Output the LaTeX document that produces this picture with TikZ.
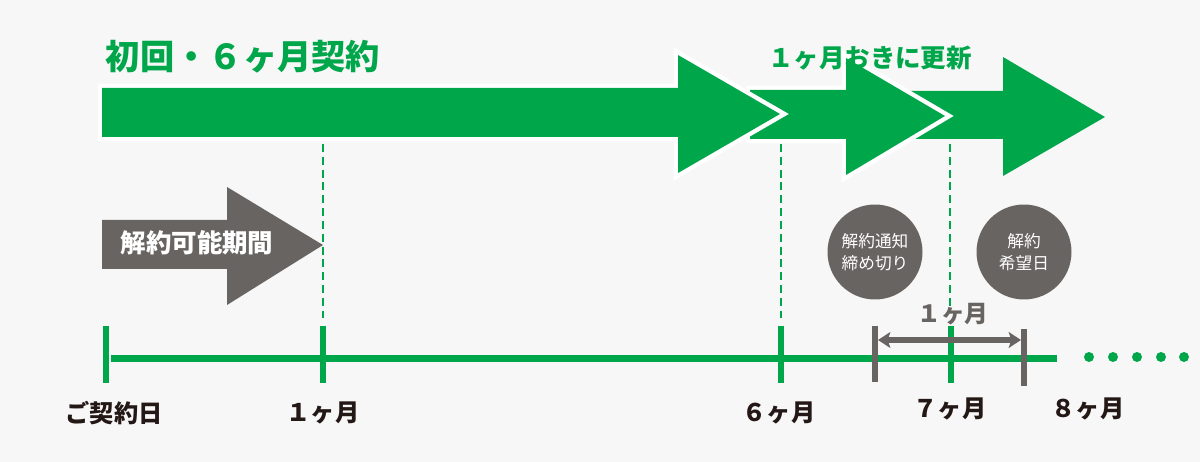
\documentclass[tikz,border=0pt]{standalone}
\usepackage{fontspec}
\setmainfont{Noto Sans CJK JP}
\usetikzlibrary{arrows.meta}

\definecolor{kgreen}{RGB}{0,166,74}
\definecolor{kgray}{RGB}{104,100,98}
\definecolor{kink}{RGB}{35,24,21}
\definecolor{kback}{RGB}{247,247,247}

\begin{document}
\begin{tikzpicture}[x=0.02cm, y=-0.02cm,
		bigarrow/.style={fill=kgreen, preaction={draw=white, line width=5pt, line join=miter}},
		guide/.style={kgreen, line width=0.6pt, dash pattern=on 4.5pt off 2.8pt},
		tick/.style={kgreen, line width=3.4pt},
		gtick/.style={kgray, line width=3.4pt},
		month/.style={text=kink, font=\bfseries\fontsize{13.8}{16}\selectfont},
		badge/.style={circle, fill=kgray, minimum size=1.9cm, inner sep=0pt, text=white, align=center, font=\fontsize{9.5}{12.5}\selectfont}]
	\useasboundingbox[fill=kback] (0, 0) rectangle (1200, 462);
	
	\fill[kgreen] (910, 91) -- (1003, 91) -- (1003, 57) -- (1105, 117) -- (1003, 176) -- (1003, 139) -- (910, 139) -- cycle;
	\path[bigarrow] (750, 90) -- (846, 90) -- (846, 58) -- (945, 116) -- (846, 175) -- (846, 139) -- (750, 139) -- cycle;
	\path[bigarrow] (102, 88) -- (678, 88) -- (678, 55) -- (780, 114) -- (678, 173) -- (678, 137) -- (102, 137) -- cycle;
	\node (title) at (243, 57) [text=kgreen, font=\bfseries\fontsize{19.5}{22}\selectfont] {初回・６ヶ月契約};
	\node (renew) at (870, 58) [text=kgreen, font=\bfseries\fontsize{14.5}{17}\selectfont] {１ヶ月おきに更新};
	
	\fill[kgray] (102, 220) -- (227, 220) -- (227, 187) -- (323, 245) -- (227, 305) -- (227, 269) -- (102, 269) -- cycle;
	\node (period) at (197, 243) [text=white, font=\bfseries\fontsize{14.5}{17}\selectfont] {解約可能期間};
	
	\foreach \x/\y in {323/318, 781/318, 950/310}
		\draw[guide] (\x, 144) -- (\x, \y);
	
	\node (notice) at (875, 252) [badge] {解約通知\\締め切り};
	\node (wish) at (1024, 252) [badge] {解約\\希望日};
	
	\draw[kgreen, line width=3.8pt] (111, 358.5) -- (1057, 358.5);
	\foreach \x in {106, 323, 781, 951}
		\draw[tick] (\x, 326) -- (\x, 383);
	\draw[gtick] (875, 326) -- (875, 382);
	\draw[gtick] (1024, 329) -- (1024, 386);
	\foreach \x in {1089, 1113, 1137, 1161, 1184}
		\fill[kgreen] (\x, 357) circle (5);
	
	\coordinate (lim) at (878, 340);
	\coordinate (want) at (1021, 340);
	\draw[kgray, line width=3pt, {Stealth[length=7pt, width=9pt, inset=1.5pt]}-{Stealth[length=7pt, width=9pt, inset=1.5pt]}] (lim) -- (want);
	\node (span) at (953, 314) [text=kgray, font=\bfseries\fontsize{13.5}{16}\selectfont] {１ヶ月};
	
	\node (start) at (114, 413) [month] {ご契約日};
	\node (m1) at (323, 413) [month] {１ヶ月};
	\node (m6) at (779, 413) [month] {６ヶ月};
	\node (m7) at (950, 409) [month] {７ヶ月};
	\node (m8) at (1088, 409) [month] {８ヶ月};
\end{tikzpicture}
\end{document}
